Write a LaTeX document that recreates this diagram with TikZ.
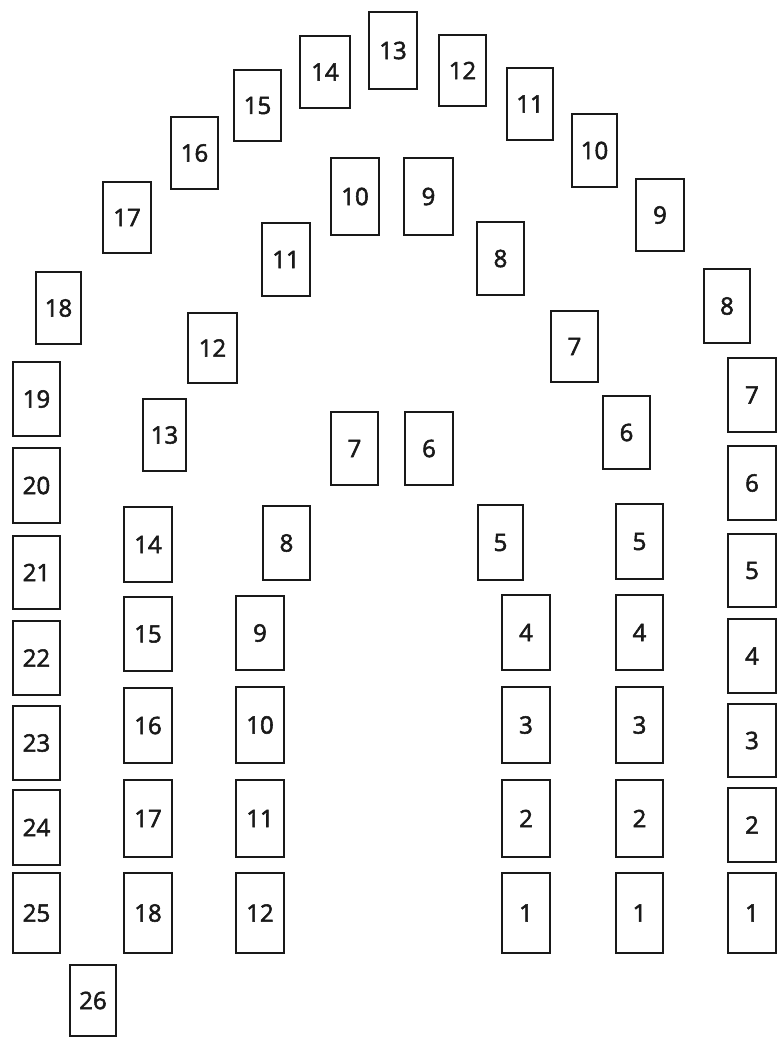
\documentclass[tikz,border=0pt]{standalone}
\usepackage{fontspec}
\setmainfont{Open Sans}
\newfontfamily\numfont{Open Sans}[FakeBold=2.2]
\begin{document}
\begin{tikzpicture}[x=1pt,y=-1pt,
  bx/.style={draw=black!90,line width=1.8pt,fill=white,inner sep=0pt,outer sep=0pt,
    font=\numfont\fontsize{24}{24}\selectfont,text=black!90}]
\newcommand\Bx[6]{\node[bx,minimum width={(#4-#2)*1pt},minimum height={(#5-#3)*1pt}]
  (#1) at ({(#2+#4)/2},{(#3+#5)/2}) {#6};}
\useasboundingbox[fill=white] (0,0) rectangle (778,1037);
% outer arch
\Bx{o1}{728}{873}{776}{953}{1}
\Bx{o2}{728}{788}{776}{862}{2}
\Bx{o3}{728}{704}{776}{777}{3}
\Bx{o4}{728}{619}{776}{693}{4}
\Bx{o5}{728}{534}{776}{607}{5}
\Bx{o6}{728}{446}{776}{520}{6}
\Bx{o7}{728}{358}{776}{432}{7}
\Bx{o8}{704}{269}{750}{343}{8}
\Bx{o9}{636}{179}{684}{251}{9}
\Bx{o10}{572}{114}{617}{187}{10}
\Bx{o11}{507}{68}{553}{140}{11}
\Bx{o12}{439}{35}{486}{106}{12}
\Bx{o13}{369}{12}{417}{89}{13}
\Bx{o14}{300}{36}{350}{108}{14}
\Bx{o15}{234}{70}{281}{141}{15}
\Bx{o16}{171}{117}{218}{189}{16}
\Bx{o17}{103}{182}{151}{253}{17}
\Bx{o18}{36}{272}{81}{344}{18}
\Bx{o19}{13}{362}{60}{436}{19}
\Bx{o20}{13}{448}{60}{523}{20}
\Bx{o21}{13}{536}{60}{609}{21}
\Bx{o22}{13}{621}{60}{695}{22}
\Bx{o23}{13}{706}{60}{780}{23}
\Bx{o24}{13}{790}{60}{865}{24}
\Bx{o25}{13}{873}{60}{953}{25}
\Bx{o26}{70}{965}{116}{1036}{26}
% middle arch
\Bx{m1}{616}{873}{663}{953}{1}
\Bx{m2}{616}{780}{663}{857}{2}
\Bx{m3}{616}{687}{663}{763}{3}
\Bx{m4}{616}{595}{663}{670}{4}
\Bx{m5}{616}{504}{663}{579}{5}
\Bx{m6}{603}{396}{650}{469}{6}
\Bx{m7}{551}{311}{598}{382}{7}
\Bx{m8}{477}{222}{524}{295}{8}
\Bx{m9}{404}{158}{453}{235}{9}
\Bx{m10}{331}{158}{379}{235}{10}
\Bx{m11}{262}{223}{310}{296}{11}
\Bx{m12}{188}{313}{237}{383}{12}
\Bx{m13}{143}{399}{186}{471}{13}
\Bx{m14}{124}{507}{172}{582}{14}
\Bx{m15}{124}{597}{172}{671}{15}
\Bx{m16}{124}{688}{172}{763}{16}
\Bx{m17}{124}{780}{172}{857}{17}
\Bx{m18}{124}{873}{172}{953}{18}
% inner arch
\Bx{i1}{502}{873}{550}{953}{1}
\Bx{i2}{502}{780}{550}{857}{2}
\Bx{i3}{502}{687}{550}{763}{3}
\Bx{i4}{502}{595}{550}{670}{4}
\Bx{i5}{478}{505}{523}{580}{5}
\Bx{i6}{405}{412}{453}{485}{6}
\Bx{i7}{331}{412}{378}{485}{7}
\Bx{i8}{263}{506}{310}{580}{8}
\Bx{i9}{236}{596}{284}{670}{9}
\Bx{i10}{236}{687}{284}{763}{10}
\Bx{i11}{236}{780}{284}{857}{11}
\Bx{i12}{236}{873}{284}{953}{12}
\end{tikzpicture}
\end{document}
